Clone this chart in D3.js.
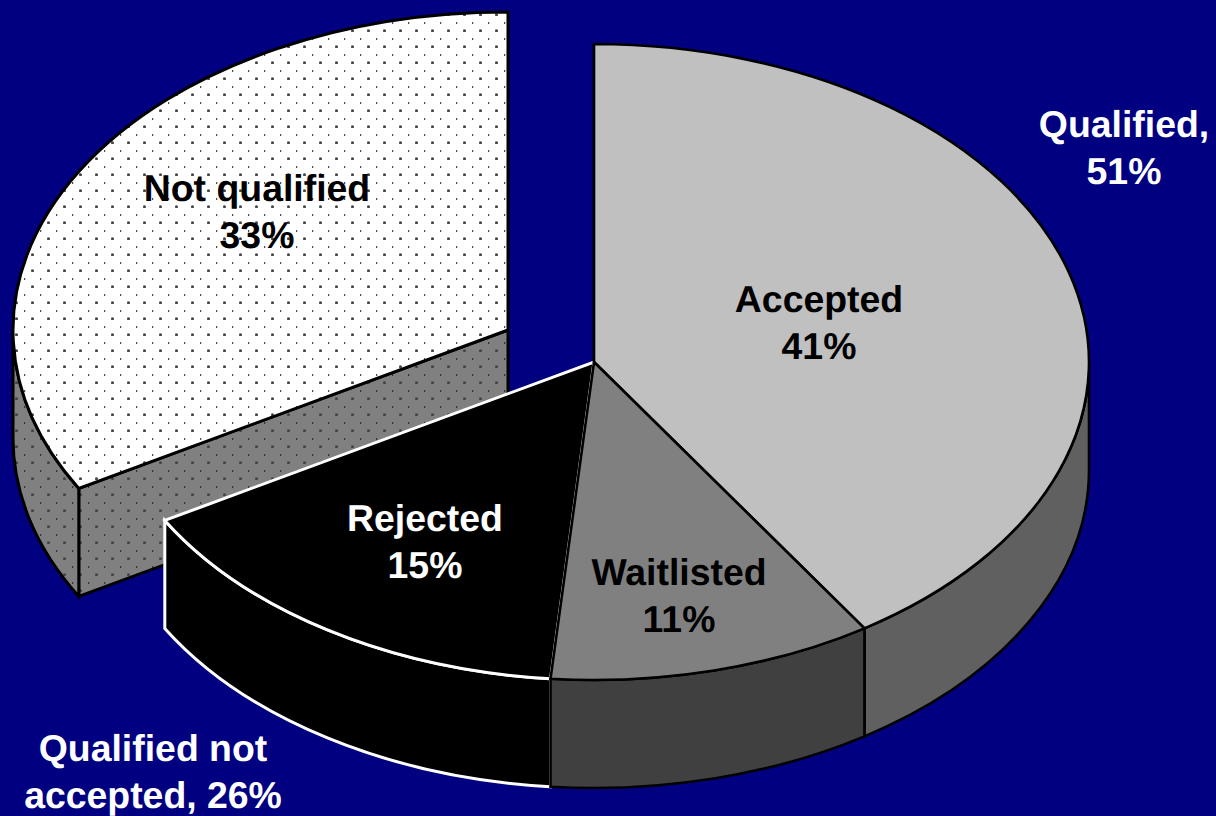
<!DOCTYPE html>
<html>
<head>
<meta charset="utf-8">
<style>html,body{margin:0;padding:0;background:#000080;overflow:hidden}svg{display:block}text{font-family:"Liberation Sans",Arial,sans-serif;font-weight:700;font-size:37.4px;text-anchor:middle;text-rendering:geometricPrecision}</style>
<script src="https://cdn.jsdelivr.net/npm/d3@7"></script>
</head>
<body>
<svg id="c" width="1216" height="816"></svg>
<script>
const categories = ["Accepted", "Waitlisted", "Rejected", "Not qualified"];
const percentLabels = ["41%", "11%", "15%", "33%"];
const shares = [40.8, 10.6, 15.3, 33.3];
const topFill = ["#c0c0c0", "#808080", "#000000", "url(#dotsTop)"];
const sideFill = ["#606060", "#404040", "#000000", "url(#dotsSide)"];
const strokes = ["#000000", "#000000", "#ffffff", "#000000"];
const centerX = [594, 594, 594, 508];
const centerY = [362, 362, 362, 330];
const groupLabels = [["Qualified,", "51%"], ["Qualified not", "accepted, 26%"]];

const W = 1216, H = 816, rx = 495, ry = 318, depth = 108;
const svg = d3.select("#c").attr("viewBox", [0, 0, W, H]);

const defs = svg.append("defs");
[["dotsTop", "#ffffff"], ["dotsSide", "#808080"]].forEach(([id, bg]) => {
  const p = defs.append("pattern").attr("id", id).attr("patternUnits", "userSpaceOnUse")
    .attr("width", 16).attr("height", 16);
  p.append("rect").attr("width", 16).attr("height", 16).attr("fill", bg);
  p.append("circle").attr("cx", 0.5).attr("cy", 14.8).attr("r", 1.5).attr("fill", "#444");
  p.append("circle").attr("cx", 16.5).attr("cy", 14.8).attr("r", 1.5).attr("fill", "#444");
  p.append("rect").attr("x", 8.2).attr("y", 6).attr("width", 1).attr("height", 2).attr("fill", "#222");
});

const pie = d3.pie().sort(null).value(d => d)(shares);
const pt = (i, a) => [centerX[i] + rx * Math.sin(a), centerY[i] - ry * Math.cos(a)];
const arcTo = (a0, a1, p) => `A${rx},${ry} 0 ${Math.abs(a1 - a0) > Math.PI ? 1 : 0} ${a1 > a0 ? 1 : 0} ${p[0]},${p[1]}`;

function topPath(i) {
  const { startAngle: s, endAngle: e } = pie[i];
  const a = pt(i, s), b = pt(i, e);
  return `M${centerX[i]},${centerY[i]}L${a[0]},${a[1]}${arcTo(s, e, b)}Z`;
}
function wallPath(i) {
  const s = Math.max(pie[i].startAngle, Math.PI / 2), e = Math.min(pie[i].endAngle, 1.5 * Math.PI);
  const a = pt(i, s), b = pt(i, e);
  const a2 = [a[0], a[1] + depth], b2 = [b[0], b[1] + depth];
  return `M${a[0]},${a[1]}${arcTo(s, e, b)}L${b2[0]},${b2[1]}${arcTo(e, s, a2)}Z`;
}
function cutPath(i, angle) {
  const a = pt(i, angle), c = [centerX[i], centerY[i]];
  return `M${c[0]},${c[1]}L${a[0]},${a[1]}L${a[0]},${a[1] + depth}L${c[0]},${c[1] + depth}Z`;
}

const slices = svg.append("g").attr("stroke-linejoin", "miter");
const add = (d, fill, i, w) => slices.append("path").attr("d", d).attr("fill", fill)
  .attr("stroke", strokes[i]).attr("stroke-width", w);

add(cutPath(3, pie[3].startAngle), sideFill[3], 3, 3);
add(wallPath(3), sideFill[3], 3, 3);
add(topPath(3), topFill[3], 3, 3);
add(wallPath(2), sideFill[2], 2, 3);
add(topPath(2), topFill[2], 2, 3);
add(wallPath(0), sideFill[0], 0, 2.6);
add(topPath(0), topFill[0], 0, 2.6);
add(wallPath(1), sideFill[1], 1, 2.6);
add(topPath(1), topFill[1], 1, 2.6);

const labels = [
  { i: 0, x: 819, y: 312, fill: "#000" },
  { i: 1, x: 679, y: 585, fill: "#000" },
  { i: 2, x: 425, y: 531, fill: "#fff" },
  { i: 3, x: 257, y: 201, fill: "#000" }
];
const lineStep = 47;
const tg = svg.append("g");
labels.forEach(l => {
  const t = tg.append("text").attr("fill", l.fill);
  t.append("tspan").attr("x", l.x).attr("y", l.y).text(categories[l.i]);
  t.append("tspan").attr("x", l.x).attr("y", l.y + lineStep).text(percentLabels[l.i]);
});
[{ g: 0, x: 1124, y: 137 }, { g: 1, x: 153, y: 761 }].forEach(l => {
  const t = tg.append("text").attr("fill", "#fff");
  groupLabels[l.g].forEach((s, k) => t.append("tspan").attr("x", l.x).attr("y", l.y + k * lineStep).text(s));
});
</script>
</body>
</html>
